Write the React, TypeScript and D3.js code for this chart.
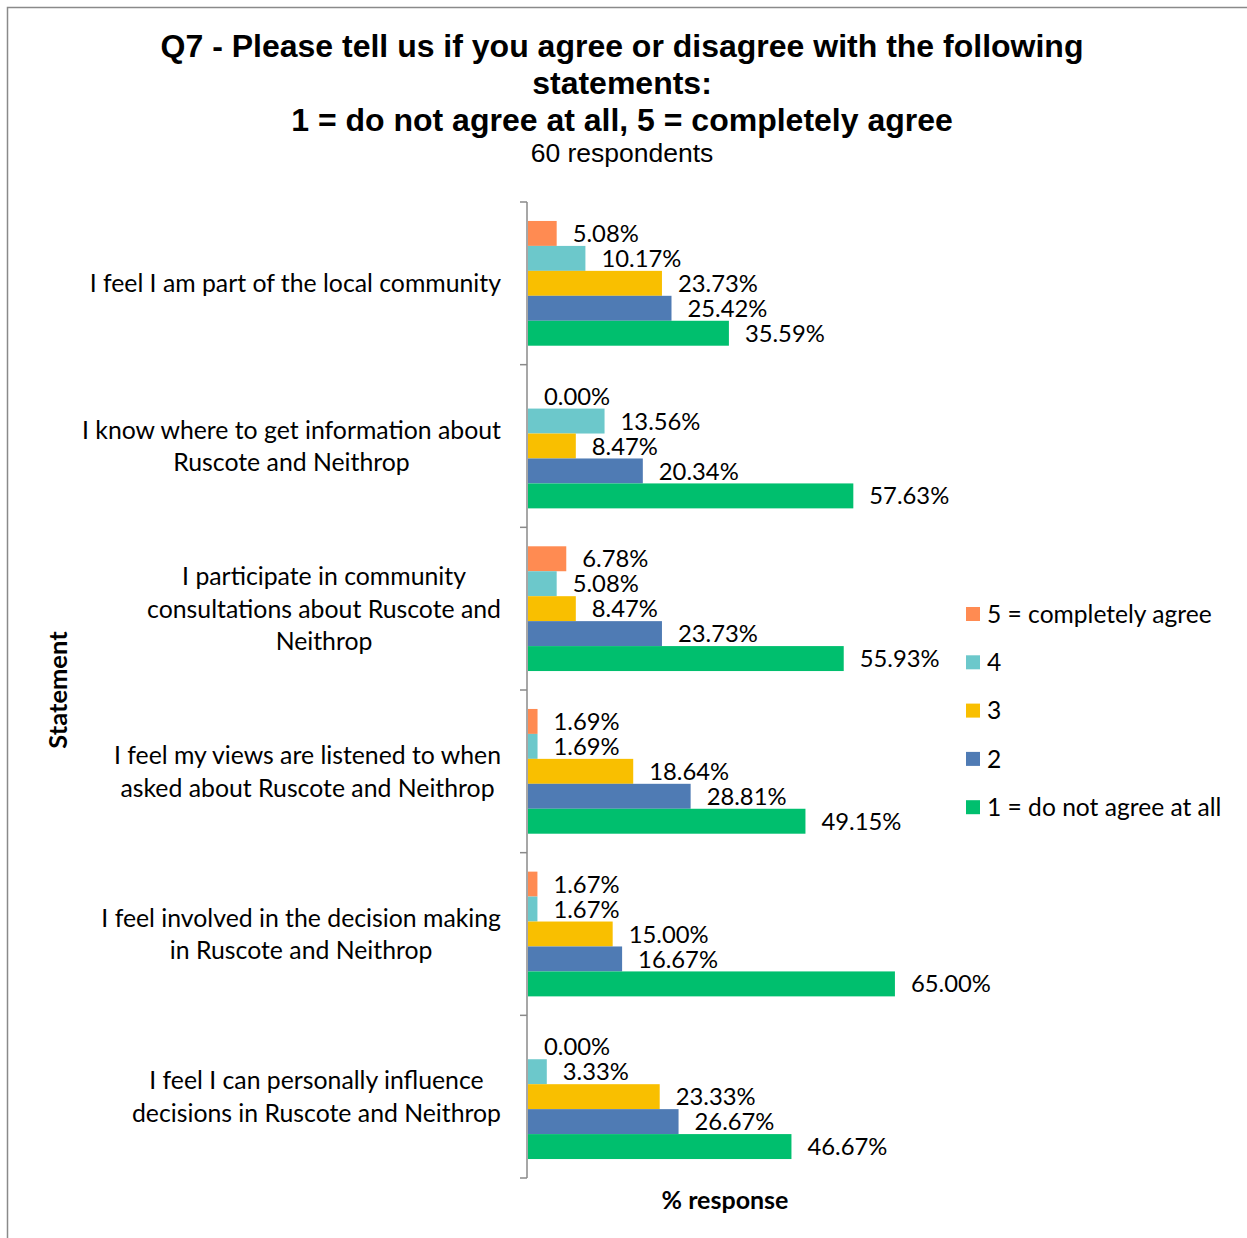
import React, { useEffect, useRef } from "react";
import * as d3 from "d3";

const categories = [
  ["I feel I am part of the local community"],
  ["I know where to get information about", "Ruscote and Neithrop"],
  ["I participate in community", "consultations about Ruscote and", "Neithrop"],
  ["I feel my views are listened to when", "asked about Ruscote and Neithrop"],
  ["I feel involved in the decision making", "in Ruscote and Neithrop"],
  ["I feel I can personally influence", "decisions in Ruscote and Neithrop"],
];
const seriesNames = ["5 = completely agree", "4", "3", "2", "1 = do not agree at all"];
const seriesColors = ["#FF8B52", "#6CC8CB", "#F9BF00", "#4F7BB4", "#00BF6E"];
const s5 = [5.08, 0.0, 6.78, 1.69, 1.67, 0.0];
const s4 = [10.17, 13.56, 5.08, 1.69, 1.67, 3.33];
const s3 = [23.73, 8.47, 8.47, 18.64, 15.0, 23.33];
const s2 = [25.42, 20.34, 23.73, 28.81, 16.67, 26.67];
const s1 = [35.59, 57.63, 55.93, 49.15, 65.0, 46.67];
const seriesValues = [s5, s4, s3, s2, s1];
const titleLines = [
  "Q7 - Please tell us if you agree or disagree with the following",
  "statements:",
  "1 = do not agree at all, 5 = completely agree",
];

export default function App() {
  const ref = useRef<SVGSVGElement>(null);
  useEffect(() => {
    const svg = d3.select(ref.current);
    svg.selectAll("*").remove();
    const font = "Lato, 'Open Sans', sans-serif";
    const arial = "'Liberation Sans', Arial, sans-serif";

    svg.append("rect").attr("x", 7.5).attr("y", 7.5).attr("width", 1260).attr("height", 1260)
      .attr("fill", "white").attr("stroke", "#8a8a8a").attr("stroke-width", 1.5);

    // titles
    titleLines.forEach((t, i) => {
      svg.append("text").attr("x", 622).attr("y", 57 + i * 37).attr("text-anchor", "middle")
        .attr("font-family", arial).attr("font-weight", "bold")
        .attr("font-size", 32).attr("fill", "#000").text(t);
    });
    svg.append("text").attr("x", 622).attr("y", 162).attr("text-anchor", "middle")
      .attr("font-family", arial).attr("font-size", 26.5).text("60 respondents");

    const y = d3.scaleBand<number>().domain(d3.range(categories.length)).range([202, 1178]).padding(0);
    const inner = d3.scaleBand<number>().domain(d3.range(seriesNames.length)).range([0, y.bandwidth()])
      .paddingInner(0).paddingOuter(0.76);
    const x = d3.scaleLinear().domain([0, 100]).range([528, 1092.5]);

    // bars
    seriesValues.forEach((vals, si) => {
      vals.forEach((v, ci) => {
        const by = y(ci)! + inner(si)!;
        svg.append("rect").attr("x", x(0)).attr("y", by).attr("width", x(v) - x(0))
          .attr("height", inner.bandwidth()).attr("fill", seriesColors[si]);
        svg.append("text").attr("x", x(v) + 16).attr("y", by + inner.bandwidth() / 2).attr("dy", "0.36em")
          .attr("font-family", font).attr("font-size", 23.8).attr("fill", "#000")
          .text(v.toFixed(2) + "%");
      });
    });

    // axis
    const axis = svg.append("g").attr("stroke", "#8a8a8a").attr("stroke-width", 1.5);
    axis.append("line").attr("x1", 527).attr("x2", 527).attr("y1", 202).attr("y2", 1178);
    for (let i = 0; i <= categories.length; i++) {
      const ty = i < categories.length ? y(i)! : 1178;
      axis.append("line").attr("x1", 520).attr("x2", 527).attr("y1", ty).attr("y2", ty);
    }

    // category labels
    categories.forEach((lines, ci) => {
      const g = svg.append("g");
      const texts = lines.map((l) =>
        g.append("text").attr("font-family", font).attr("font-size", 24.8).attr("text-anchor", "middle")
          .attr("fill", "#000").text(l)
      );
      const widths = texts.map((t) => (t.node() as SVGTextElement).getComputedTextLength());
      const maxW = Math.max(...widths);
      const cx = 501 - maxW / 2;
      const lh = 32.5;
      const cy = y(ci)! + y.bandwidth() / 2;
      texts.forEach((t, i) => {
        t.attr("x", cx).attr("y", cy + (i - (lines.length - 1) / 2) * lh).attr("dy", "0.36em");
      });
    });

    // axis titles
    svg.append("text").attr("transform", "translate(58,690) rotate(-90)").attr("text-anchor", "middle")
      .attr("dy", "0.36em").attr("font-family", font).attr("font-weight", "bold").attr("font-size", 25.5).text("Statement");
    svg.append("text").attr("x", 725).attr("y", 1200).attr("dy", "0.36em").attr("text-anchor", "middle")
      .attr("font-family", font).attr("font-weight", "bold").attr("font-size", 25).text("% response");

    // legend
    seriesNames.forEach((n, i) => {
      const ly = 614 + i * 48.3;
      svg.append("rect").attr("x", 966).attr("y", ly - 7).attr("width", 14).attr("height", 14).attr("fill", seriesColors[i]);
      svg.append("text").attr("x", 987).attr("y", ly).attr("dy", "0.36em").attr("font-family", font)
        .attr("font-size", 24.6).text(n);
    });
  }, []);
  return (
    <svg ref={ref} width={1247} height={1238} style={{ position: "absolute", left: 0, top: 0, background: "white" }} />
  );
}
